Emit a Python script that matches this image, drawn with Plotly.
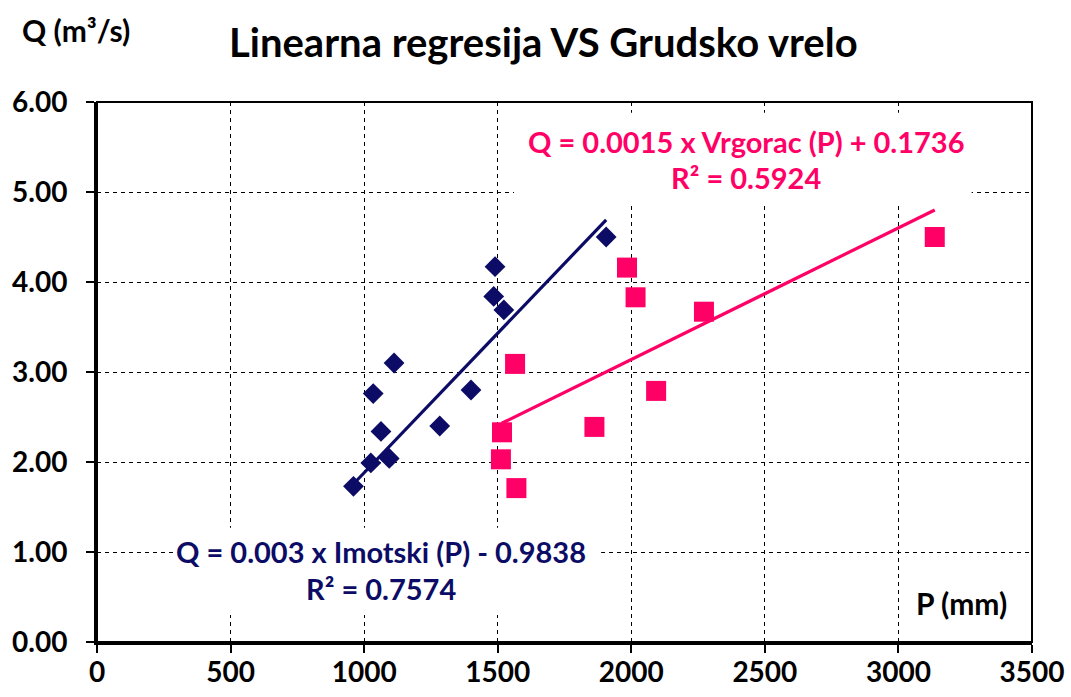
import plotly.graph_objects as go

# ---- data ----
imotski_P = [960, 1025, 1094, 1063, 1034, 1112, 1283, 1400, 1490, 1485, 1523, 1906]
imotski_Q = [1.73, 1.99, 2.04, 2.34, 2.76, 3.10, 2.40, 2.80, 4.17, 3.84, 3.69, 4.50]

vrgorac_P = [1516, 1512, 1570, 1565, 1862, 1984, 2016, 2093, 2272, 3136]
vrgorac_Q = [2.33, 2.03, 1.71, 3.09, 2.39, 4.16, 3.83, 2.79, 3.67, 4.50]

imotski_trend_P = [958, 1906]
imotski_trend_Q = [1.75, 4.69]
vrgorac_trend_P = [1515, 3136]
vrgorac_trend_Q = [2.43, 4.80]

x_ticks = [0, 500, 1000, 1500, 2000, 2500, 3000, 3500]
y_ticks = [0, 1, 2, 3, 4, 5, 6]

title_text = "Linearna regresija VS Grudsko vrelo"
eq_imotski = ["Q = 0.003 x Imotski (P) - 0.9838", "R² = 0.7574"]
eq_vrgorac = ["Q = 0.0015 x Vrgorac (P) + 0.1736", "R² = 0.5924"]

NAVY = "#0C0C66"
PINK = "#FF0066"
FONT = "Lato, 'Noto Sans', sans-serif"

fig = go.Figure()

fig.add_trace(go.Scatter(x=imotski_trend_P, y=imotski_trend_Q, mode="lines",
                         line=dict(color=NAVY, width=3.2), showlegend=False, hoverinfo="skip"))
fig.add_trace(go.Scatter(x=vrgorac_trend_P, y=vrgorac_trend_Q, mode="lines",
                         line=dict(color=PINK, width=3.2), showlegend=False, hoverinfo="skip"))
fig.add_trace(go.Scatter(x=imotski_P, y=imotski_Q, mode="markers",
                         marker=dict(symbol="diamond", size=16, color=NAVY, line=dict(width=0)),
                         showlegend=False))
fig.add_trace(go.Scatter(x=vrgorac_P, y=vrgorac_Q, mode="markers",
                         marker=dict(symbol="square", size=20, color=PINK, line=dict(width=0)),
                         showlegend=False))

# white boxes behind the equation labels (cover gridlines)
fig.add_shape(type="rect", xref="x", yref="y", x0=1561, x1=3274, y0=4.89, y1=5.88,
              fillcolor="white", line=dict(width=0), layer="between")
fig.add_shape(type="rect", xref="x", yref="y", x0=300, x1=1887, y0=0.30, y1=1.27,
              fillcolor="white", line=dict(width=0), layer="between")
# thin frame on top/right
fig.add_shape(type="rect", xref="paper", yref="paper", x0=0, x1=1, y0=0, y1=1,
              line=dict(color="black", width=2), layer="above")

ann_font = dict(family=FONT, size=29)
common = dict(showarrow=False, xanchor="center", yanchor="middle")
fig.add_annotation(x=2431, y=5.556, xref="x", yref="y", text="<b>%s</b>" % eq_vrgorac[0],
                   font=dict(ann_font, color=PINK), **common)
fig.add_annotation(x=2431, y=5.156, xref="x", yref="y", text="<b>%s</b>" % eq_vrgorac[1],
                   font=dict(ann_font, color=PINK), **common)
fig.add_annotation(x=1062, y=1.011, xref="x", yref="y", text="<b>%s</b>" % eq_imotski[0],
                   font=dict(ann_font, color=NAVY), **common)
fig.add_annotation(x=1062, y=0.60, xref="x", yref="y", text="<b>%s</b>" % eq_imotski[1],
                   font=dict(ann_font, color=NAVY), **common)

fig.add_annotation(x=0.478, y=1.111, xref="paper", yref="paper", text="<b>%s</b>" % title_text,
                   font=dict(family=FONT, size=40, color="black"), **common)
fig.add_annotation(x=-0.0225, y=1.133, xref="paper", yref="paper", text="<b>Q (m³/s)</b>",
                   font=dict(family=FONT, size=30, color="black"), **common)
fig.add_annotation(x=0.925, y=0.072, xref="paper", yref="paper", text="<b>P (mm)</b>",
                   font=dict(family=FONT, size=30, color="black"), **common)

axis_common = dict(showgrid=True, gridcolor="black", gridwidth=1, griddash="4px,4px",
                   showline=True, linecolor="black", linewidth=3,
                   ticks="outside", ticklen=8, tickwidth=2, tickcolor="black",
                   zeroline=False, automargin=False,
                   tickfont=dict(family=FONT, size=28, color="black", weight="bold"))

fig.update_xaxes(range=[0, 3500], tickvals=x_ticks, ticktext=[str(v) for v in x_ticks],
                 ticklabelstandoff=-5, **axis_common)
fig.update_yaxes(range=[0, 6], tickvals=y_ticks, ticktext=["%.2f" % v for v in y_ticks],
                 ticklabelstandoff=13, **axis_common)

fig.update_layout(width=1071, height=697, plot_bgcolor="white", paper_bgcolor="white",
                  margin=dict(l=97, r=39, t=102, b=55, autoexpand=False), showlegend=False)

fig.write_html("out.html", config={"displayModeBar": False},
               post_script="document.body.style.margin='0';document.body.style.overflow='hidden';")
